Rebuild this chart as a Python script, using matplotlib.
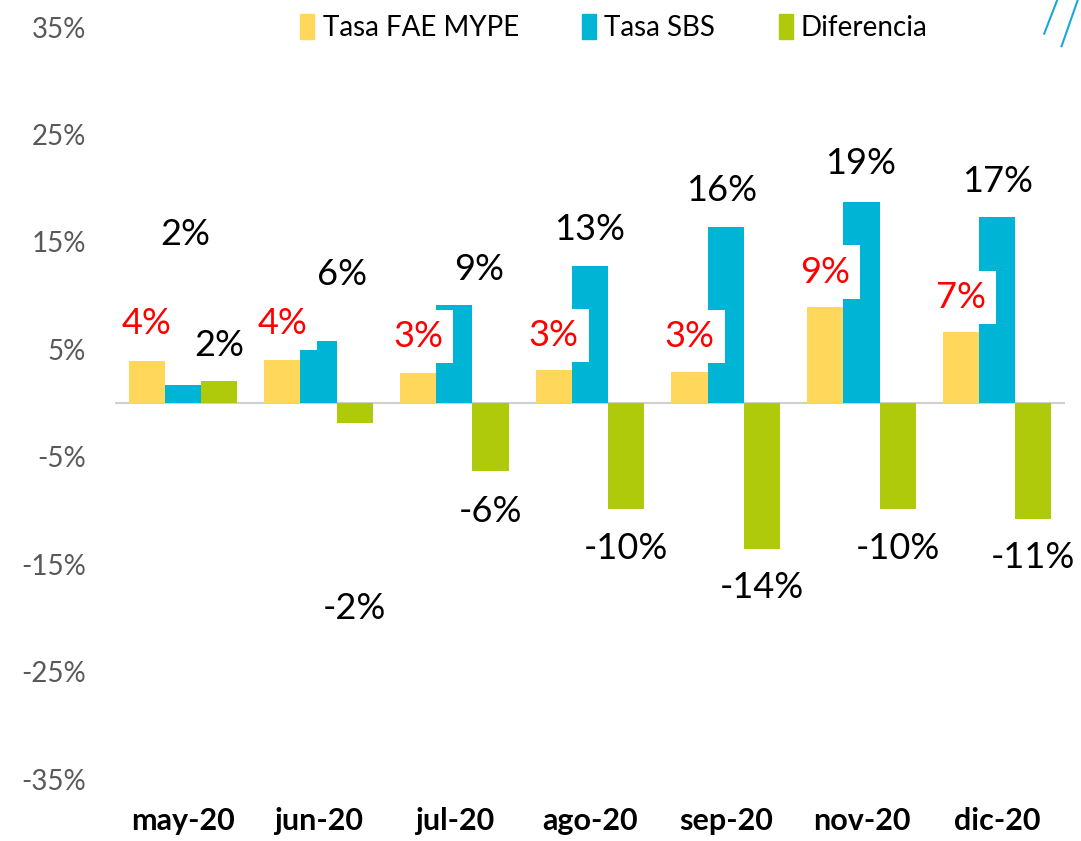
import matplotlib
matplotlib.use("Agg")
import matplotlib.pyplot as plt
import numpy as np
from matplotlib.lines import Line2D
from matplotlib.patches import Patch

plt.rcParams['font.family'] = ['Lato', 'DejaVu Sans']

# data (percent)
months = ['may-20', 'jun-20', 'jul-20', 'ago-20', 'sep-20', 'nov-20', 'dic-20']
tasa_fae = [3.9, 4.0, 2.8, 3.1, 2.9, 8.9, 6.6]
tasa_sbs = [1.7, 5.8, 9.1, 12.8, 16.4, 18.7, 17.3]
diferencia = [2.1, -1.9, -6.3, -9.9, -13.6, -9.9, -10.8]
series_names = ['Tasa FAE MYPE', 'Tasa SBS', 'Diferencia']
yticks = [-35, -25, -15, -5, 5, 15, 25, 35]

# where the value labels sit (label centres, data units)
fae_lab_y = [7.4, 7.4, 6.2, 6.3, 6.2, 12.2, 9.8]
sbs_lab_dx = [0.02, 0.17, 0.18, 0.0, -0.03, -0.01, 0.0]
sbs_lab_y = [15.7, 12.0, 12.4, 16.2, 19.8, 22.3, 20.6]
dif_lab_y = [5.4, -19.1, -10.1, -13.5, -17.2, -13.5, -14.4]

c_fae = '#FFD75A'
c_sbs = '#00B4D5'
c_dif = '#AFCA0B'

fig = plt.figure(figsize=(10.81, 8.41), dpi=100, facecolor='white')
ax = fig.add_axes([0.1064, 0.0737, 0.8788, 0.894])
ax.set_facecolor('white')

x = np.arange(len(months))
w = 0.267
ax.bar(x - w, tasa_fae, w, color=c_fae, zorder=2)
ax.bar(x, tasa_sbs, w, color=c_sbs, zorder=2)
ax.bar(x + w, diferencia, w, color=c_dif, zorder=2)
ax.axhline(0, color='#D0D0D0', lw=1.5, zorder=1)

box = dict(boxstyle='square,pad=0.28', fc='white', ec='none')
for i in range(len(months)):
    ax.text(x[i] - w, fae_lab_y[i], f'{round(tasa_fae[i])}%', color='#FF0000',
            fontsize=26, ha='center', va='center', bbox=box, zorder=3)
    ax.text(x[i] + sbs_lab_dx[i], sbs_lab_y[i], f'{round(tasa_sbs[i])}%', color='black',
            fontsize=26, ha='center', va='center', bbox=box, zorder=3)
    ax.text(x[i] + w, dif_lab_y[i], f'{round(diferencia[i])}%', color='black',
            fontsize=26, ha='center', va='center', bbox=box, zorder=3)

ax.set_xlim(-0.5, len(months) - 0.5)
ax.set_ylim(-35, 35)
ax.set_yticks(yticks)
ax.set_yticklabels([f'{t}%' for t in yticks], color='#595959', fontsize=20)
ax.set_xticks(x)
ax.set_xticklabels(months, fontsize=22, fontweight='bold', color='black')
ax.tick_params(axis='both', length=0)
ax.tick_params(axis='y', pad=21)
ax.tick_params(axis='x', pad=20)
for s in ax.spines.values():
    s.set_visible(False)

handles = [Patch(color=c_fae), Patch(color=c_sbs), Patch(color=c_dif)]
fig.legend(handles, series_names, loc='center', bbox_to_anchor=(0.568, 0.967),
           ncol=3, frameon=False, fontsize=20, handlelength=0.5, handleheight=1.0,
           handletextpad=0.3, columnspacing=2.28)

# decorative slashes top-right
fig.add_artist(Line2D([0.966, 0.978], [0.96, 1.0], color='#1BA8D6', lw=1.5))
fig.add_artist(Line2D([0.982, 0.997], [0.945, 1.0], color='#1BA8D6', lw=1.5))

fig.savefig('out.png', dpi=100, facecolor='white')
